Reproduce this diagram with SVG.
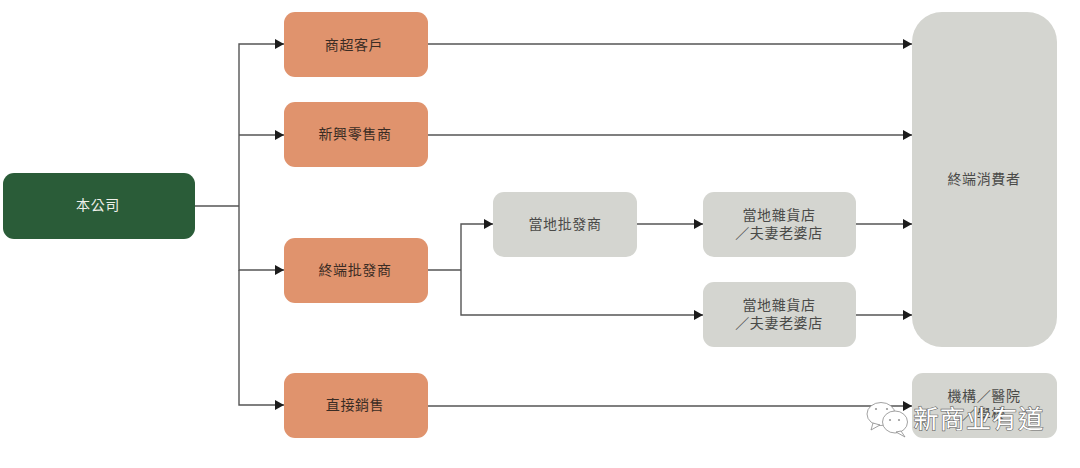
<svg xmlns="http://www.w3.org/2000/svg" width="1080" height="468" viewBox="0 0 1080 468">
<defs>
<marker id="arr" markerUnits="userSpaceOnUse" markerWidth="9" markerHeight="10" refX="9" refY="5" orient="auto"><path d="M0 0L9 5L0 10Z" fill="#1c1c1c"/></marker>
</defs>
<style>
text{font-family:"Noto Sans CJK TC","Noto Sans CJK SC",sans-serif;font-size:14px;text-anchor:middle;letter-spacing:.6px}
.o{fill:#e0936d}.g{fill:#d4d5d0}.k{fill:#2a5c38}
.dk{fill:#4a4a48}.wt{fill:#f0f0ea}.br{fill:#3a2c24}
.c{fill:none;stroke:#555;stroke-width:1.4}
.a{marker-end:url(#arr)}
.wm{fill:#fff;stroke:#8a8a8a;stroke-width:.8}
</style>
<rect width="1080" height="468" fill="#fff"/>
<g id="connectors">
<path class="c" d="M195 206H239"/>
<path class="c a" d="M239 206V44H284"/>
<path class="c a" d="M239 135H284"/>
<path class="c a" d="M239 206V270H284"/>
<path class="c a" d="M239 270V405H284"/>
<path class="c a" d="M428 44H912"/>
<path class="c a" d="M428 135H912"/>
<path class="c" d="M428 270H461"/>
<path class="c a" d="M461 270V224H493"/>
<path class="c a" d="M461 270V315H703"/>
<path class="c a" d="M637 224H703"/>
<path class="c a" d="M856 224H912"/>
<path class="c a" d="M856 315H912"/>
<path class="c a" d="M428 406H912"/>
</g>
<g id="company"><rect class="k" x="3" y="173" width="192" height="66" rx="11"/><text class="wt" x="98" y="210">本公司</text></g>
<g id="n-supermarket"><rect class="o" x="284" y="12" width="144" height="65" rx="11"/><text class="br" x="354" y="50">商超客戶</text></g>
<g id="n-newretail"><rect class="o" x="284" y="102" width="144" height="65" rx="11"/><text class="br" x="355" y="139">新興零售商</text></g>
<g id="n-terminal"><rect class="o" x="284" y="238" width="144" height="65" rx="11"/><text class="br" x="355" y="275">終端批發商</text></g>
<g id="n-direct"><rect class="o" x="284" y="373" width="144" height="65" rx="11"/><text class="br" x="355" y="410">直接銷售</text></g>
<g id="n-localwholesale"><rect class="g" x="493" y="192" width="144" height="65" rx="11"/><text class="dk" x="565" y="229">當地批發商</text></g>
<g id="n-store1"><rect class="g" x="703" y="192" width="153" height="65" rx="11"/><text class="dk" x="779" y="220">當地雜貨店</text><text class="dk" x="779" y="238">／夫妻老婆店</text></g>
<g id="n-store2"><rect class="g" x="703" y="282" width="153" height="65" rx="11"/><text class="dk" x="779" y="310">當地雜貨店</text><text class="dk" x="779" y="328">／夫妻老婆店</text></g>
<g id="n-consumer"><rect class="g" x="912" y="12" width="145" height="335" rx="30"/><text class="dk" x="984" y="184">終端消費者</text></g>
<g id="n-institution"><rect class="g" x="912" y="373" width="145" height="65" rx="11"/><text class="dk" x="984" y="401">機構／醫院</text><text class="dk" x="984" y="419">／學校</text></g>
<g id="watermark">
<ellipse class="wm" cx="881" cy="414" rx="14" ry="11.5"/><path class="wm" d="M873 423L871 430L880 425Z"/>
<ellipse class="wm" cx="895" cy="422" rx="12.5" ry="11"/><path class="wm" d="M901 431L905 437L896 432Z"/>
<circle cx="876" cy="409" r="1.1" fill="#999"/><circle cx="887" cy="409" r="1.1" fill="#999"/><circle cx="890" cy="420" r="1.1" fill="#999"/><circle cx="899" cy="420" r="1.1" fill="#999"/>
<text x="979" y="428" style="font-size:25px;letter-spacing:1.2px;fill:#fff;stroke:#666;stroke-width:1.2;paint-order:stroke">新商业有道</text>
</g>
</svg>
